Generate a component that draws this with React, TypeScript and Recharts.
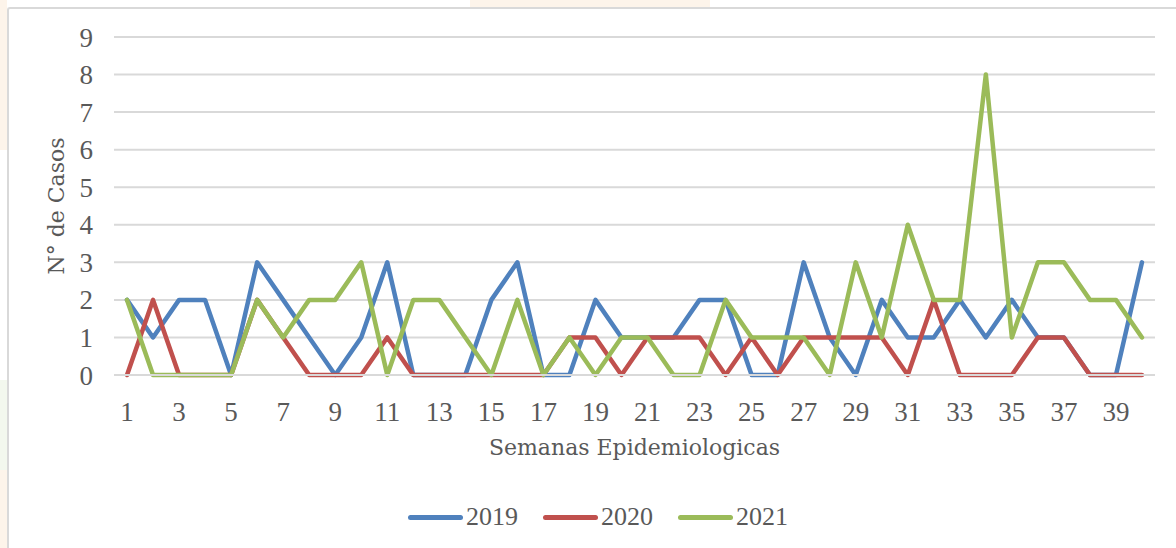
import React from "react"
import { CartesianGrid, Label, Line, LineChart, XAxis, YAxis } from "recharts"

const weeks = Array.from({ length: 40 }, (_, i) => i + 1)
const cases2019 = [2, 1, 2, 2, 0, 3, 2, 1, 0, 1, 3, 0, 0, 0, 2, 3, 0, 0, 2, 1, 1, 1, 2, 2, 0, 0, 3, 1, 0, 2, 1, 1, 2, 1, 2, 1, 1, 0, 0, 3]
const cases2020 = [0, 2, 0, 0, 0, 2, 1, 0, 0, 0, 1, 0, 0, 0, 0, 0, 0, 1, 1, 0, 1, 1, 1, 0, 1, 0, 1, 1, 1, 1, 0, 2, 0, 0, 0, 1, 1, 0, 0, 0]
const cases2021 = [2, 0, 0, 0, 0, 2, 1, 2, 2, 3, 0, 2, 2, 1, 0, 2, 0, 1, 0, 1, 1, 0, 0, 2, 1, 1, 1, 0, 3, 1, 4, 2, 2, 8, 1, 3, 3, 2, 2, 1]
const xTicks = [1, 3, 5, 7, 9, 11, 13, 15, 17, 19, 21, 23, 25, 27, 29, 31, 33, 35, 37, 39]
const yTicks = [0, 1, 2, 3, 4, 5, 6, 7, 8, 9]

const series = [
  { key: "y2019", name: "2019", color: "#4F81BD" },
  { key: "y2020", name: "2020", color: "#C0504D" },
  { key: "y2021", name: "2021", color: "#9BBB59" },
]

const data = weeks.map((w, i) => ({
  week: w,
  y2019: cases2019[i],
  y2020: cases2020[i],
  y2021: cases2021[i],
}))

const font = "'Liberation Serif', serif"
const titleFont = "'DejaVu Serif', serif"
const textColor = "#595959"

// faint page watermark showing around the chart frame
const tints = [
  { left: 0, top: 0, width: 7, height: 150, background: "#FDF4EA" },
  { left: 0, top: 380, width: 7, height: 90, background: "#F3F8EE" },
  { left: 0, top: 470, width: 7, height: 78, background: "#FDF4EA" },
  { left: 470, top: 0, width: 240, height: 7, background: "#FDF4EA" },
]

export default function App() {
  return (
    <div
      style={{
        position: "absolute",
        left: 0,
        top: 0,
        width: 1176,
        height: 548,
        background: "#fff",
        fontFamily: font,
        overflow: "hidden",
      }}
    >
      {tints.map((t, i) => (
        <div key={i} style={{ position: "absolute", ...t }} />
      ))}
      <div
        style={{
          position: "absolute",
          left: 7,
          top: 7,
          width: 1200,
          height: 600,
          borderTop: "2px solid #D9D9D9",
          borderLeft: "2px solid #D9D9D9",
          borderTopLeftRadius: 3,
          boxSizing: "border-box",
        }}
      />
      <LineChart width={1176} height={548} data={data} margin={{ top: 37, right: 21, bottom: 143, left: 54 }}>
        <CartesianGrid vertical={false} stroke="#D9D9D9" strokeWidth={2} />
        <XAxis
          dataKey="week"
          type="number"
          domain={[0.5, 40.5]}
          ticks={xTicks}
          height={30}
          axisLine={{ stroke: "#D9D9D9", strokeWidth: 2 }}
          tickLine={false}
          tickMargin={21}
          interval={0}
          tick={{ fill: textColor, fontSize: 27, fontFamily: font }}
        >
          <Label
            value="Semanas Epidemiologicas"
            position="insideBottom"
            offset={-50}
            style={{ fill: textColor, fontSize: 22, fontFamily: titleFont }}
          />
        </XAxis>
        <YAxis
          domain={[0, 9]}
          ticks={yTicks}
          width={60}
          axisLine={false}
          tickLine={false}
          tickMargin={15}
          tick={{ fill: textColor, fontSize: 27, fontFamily: font }}
        >
          <Label
            value="N° de Casos"
            angle={-90}
            position="insideLeft"
            offset={2}
            style={{ fill: textColor, fontSize: 22, fontFamily: titleFont, textAnchor: "middle" }}
          />
        </YAxis>
        {series.map((s) => (
          <Line
            key={s.key}
            type="linear"
            dataKey={s.key}
            name={s.name}
            stroke={s.color}
            strokeWidth={4.5}
            strokeLinejoin="round"
            strokeLinecap="round"
            dot={false}
            activeDot={false}
            isAnimationActive={false}
          />
        ))}
      </LineChart>
      <div
        style={{
          position: "absolute",
          left: 0,
          width: 1176,
          top: 502,
          display: "flex",
          justifyContent: "center",
          paddingLeft: 20,
          boxSizing: "border-box",
          gap: 25,
          color: textColor,
          fontSize: 26,
        }}
      >
        {series.map((s) => (
          <div key={s.key} style={{ display: "flex", alignItems: "center", gap: 3 }}>
            <div style={{ width: 55, height: 5, borderRadius: 3, background: s.color }} />
            <span>{s.name}</span>
          </div>
        ))}
      </div>
    </div>
  )
}
